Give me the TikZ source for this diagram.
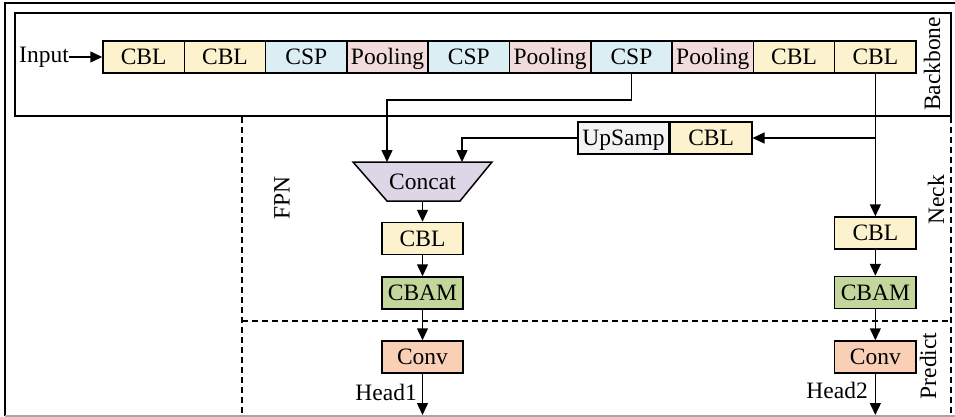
\documentclass[tikz,border=0pt]{standalone}
\usepackage{fontspec}
\setmainfont{Liberation Serif}
\usetikzlibrary{arrows.meta}
\definecolor{cblc}{HTML}{FCF2CD}
\definecolor{cspc}{HTML}{DAEEF3}
\definecolor{poolc}{HTML}{F2DCDB}
\definecolor{upc}{HTML}{F2F3F2}
\definecolor{catc}{HTML}{DCD6E6}
\definecolor{cbamc}{HTML}{C3D69B}
\definecolor{convc}{HTML}{F9D0B5}
\tikzset{
  blk/.style={draw, line width=1.5pt, minimum width=81.3pt, minimum height=32pt,
    inner sep=0pt, text height=17pt, text depth=1.4pt,
    font=\fontsize{23.5}{26}\selectfont},
  cbl/.style={blk, fill=cblc},
  csp/.style={blk, fill=cspc},
  pool/.style={blk, fill=poolc},
  ups/.style={blk, fill=upc, minimum width=91pt},
  cbam/.style={blk, fill=cbamc},
  convb/.style={blk, fill=convc},
  lbl/.style={inner sep=0pt, font=\fontsize{23.5}{26}\selectfont},
  conn/.style={line width=1.5pt},
  arr/.style={conn, -{Triangle[length=12pt,width=11pt]}},
  region/.style={line width=1.4pt, dash pattern=on 6pt off 4pt},
}
\begin{document}
\begin{tikzpicture}[x=1pt,y=-1pt]
\useasboundingbox (0,0) rectangle (955,417);
% outer frame
\draw[line width=2.2pt] (955,3) -- (5,3) -- (5,416);
\draw[line width=1.2pt, gray!70] (5,416) -- (955,416);

% backbone box
\draw[line width=1.5pt] (15,13) rectangle (951,116);
\node[lbl, rotate=90] (bbl) at (932,64) {Backbone};

% backbone row
\node[cbl]  (b1)  at (143.65,57) {CBL};
\node[cbl]  (b2)  at (224.95,57) {CBL};
\node[csp]  (b3)  at (306.25,57) {CSP};
\node[pool] (b4)  at (387.55,57) {Pooling};
\node[csp]  (b5)  at (468.85,57) {CSP};
\node[pool] (b6)  at (550.15,57) {Pooling};
\node[csp]  (b7)  at (631.45,57) {CSP};
\node[pool] (b8)  at (712.75,57) {Pooling};
\node[cbl]  (b9)  at (794.05,57) {CBL};
\node[cbl]  (b10) at (875.35,57) {CBL};
\node[lbl, anchor=west] (inp) at (19,57) {Input};
\draw[arr] (inp.east) -- (b1.west);

% region separators
\draw[region] (242,117) -- (242,415);
\draw[region] (951,117) -- (951,415);
\draw[region] (242,321) -- (951,321);
\node[lbl, rotate=90] (fpn) at (282,198) {FPN};
\node[lbl, rotate=90] (neck) at (936,200) {Neck};
\node[lbl, rotate=90] (pred) at (928,366) {Predict};

% upsampling branch
\node[ups] (up) at (623.5,138) {UpSamp};
\node[cbl] (ucbl) at (up.east) [anchor=west] {CBL};

% concat
\draw[line width=1.5pt, fill=catc] (353,162) -- (492,162) -- (460,201) -- (387,201) -- cycle;
\node[lbl] (cat) at (422.5,182) {Concat};
\coordinate (cin1) at (387,162);
\coordinate (cin2) at (462,162);
\coordinate (cout) at (422.5,201);

% left column
\node[cbl]   (lcbl)  at (422.5,238.5) {CBL};
\node[cbam]  (lcbam) at (422.5,293) {CBAM};
\node[convb] (lconv) at (422.5,357) {Conv};
\coordinate (h1) at (422.5,415);
\node[lbl, anchor=east] (h1l) at (417,392) {Head1};

% right column
\node[cbl]   (rcbl)  at (875.35,233) {CBL};
\node[cbam]  (rcbam) at (875.35,292.5) {CBAM};
\node[convb] (rconv) at (875.35,357) {Conv};
\coordinate (h2) at (875.35,415);
\node[lbl, anchor=east] (h2l) at (868,390) {Head2};

% connectors
\draw[arr] (b7.south) |- (387,100) -- (cin1);
\draw[arr] (up.west) -| (cin2);
\draw[arr] (b10.south) -- (rcbl.north);
\draw[arr] (b10.south |- ucbl.east) -- (ucbl.east);
\draw[arr] (cout) -- (lcbl.north);
\draw[arr] (lcbl.south) -- (lcbam.north);
\draw[arr] (lcbam.south) -- (lconv.north);
\draw[arr] (lconv.south) -- (h1);
\draw[arr] (rcbl.south) -- (rcbam.north);
\draw[arr] (rcbam.south) -- (rconv.north);
\draw[arr] (rconv.south) -- (h2);
\end{tikzpicture}
\end{document}
